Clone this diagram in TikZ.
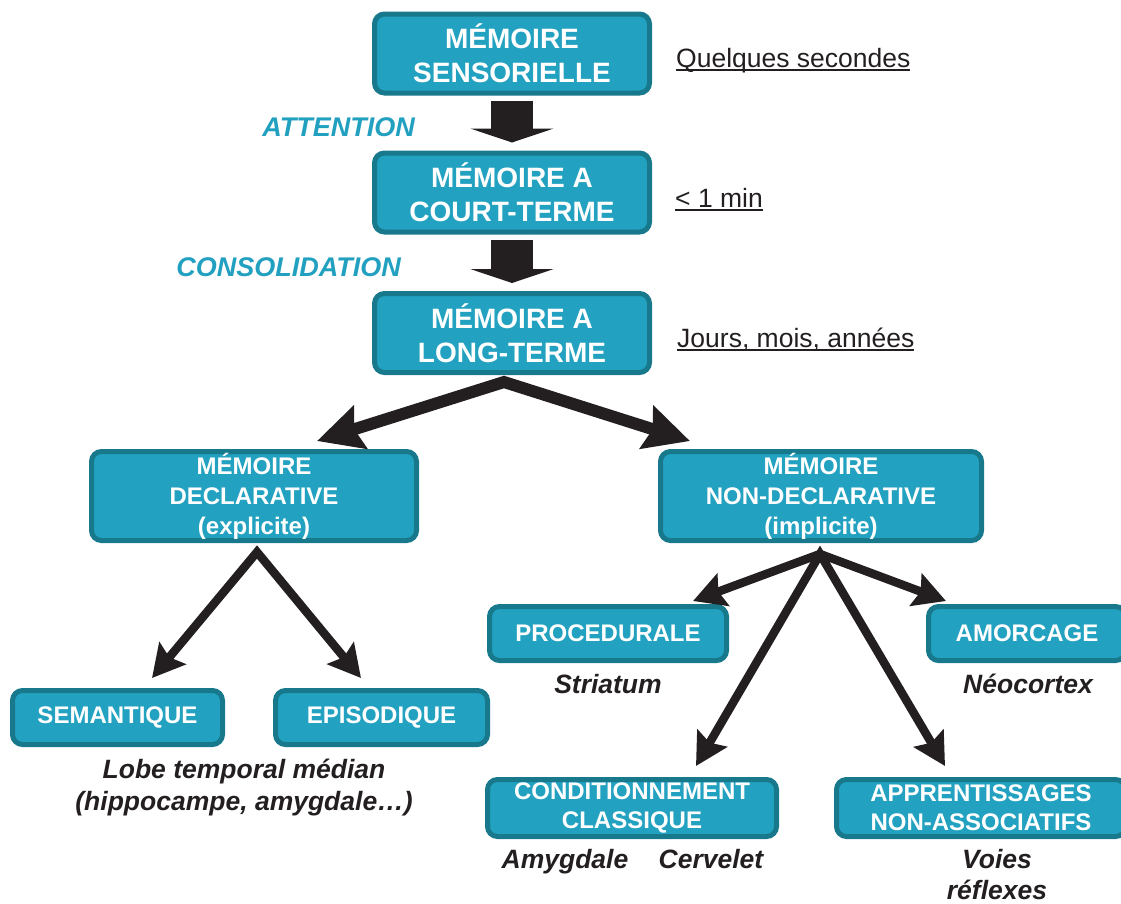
\documentclass[tikz,border=0pt]{standalone}
\usepackage{fontspec}
\setmainfont{Liberation Sans}
\usetikzlibrary{arrows.meta}
\definecolor{boxfill}{RGB}{34,162,192}
\definecolor{boxline}{RGB}{24,120,140}
\definecolor{arrowdark}{RGB}{35,31,32}
\definecolor{labelcyan}{RGB}{34,160,192}
\newsavebox{\soulbox}
\newcommand{\souligne}[1]{\sbox{\soulbox}{#1}\rlap{\rule[-3.5pt]{\wd\soulbox}{1.8pt}}\usebox{\soulbox}}

\begin{document}
\begin{tikzpicture}[x=1pt, y=-1pt,
    membox/.style={draw=boxline, fill=boxfill, line width=5pt, rounded corners=10pt,
      text=white, align=center, inner sep=0pt},
    topbox/.style={minimum width=275pt, minimum height=79pt, font=\fontsize{28}{34}\selectfont\bfseries},
    midbox/.style={minimum height=89pt, font=\fontsize{24}{30}\selectfont\bfseries},
    lowbox/.style={font=\fontsize{24}{29}\selectfont\bfseries},
    flowlabel/.style={text=labelcyan, font=\fontsize{27}{32}\selectfont\bfseries\itshape, inner sep=0pt},
    duree/.style={text=arrowdark, font=\fontsize{26.5}{32}\selectfont, inner sep=0pt},
    region/.style={text=arrowdark, font=\fontsize{26.5}{32}\selectfont\bfseries\itshape, inner sep=0pt},
    blockarrow/.style={draw=arrowdark, line width=42pt, -{Triangle[length=14pt, width=83pt]}},
    fatarrow/.style={draw=arrowdark, line width=12pt, >={Stealth[length=45pt, width=44pt, inset=6pt]}, <->},
    thinarrow/.style={draw=arrowdark, line width=8.5pt, >={Stealth[length=32pt, width=34pt, inset=5pt]}, <->}]
    \useasboundingbox (0,0) rectangle (1121,903);

    \begin{scope}[every node/.style={membox}]
        \node[topbox] (sens) at (512,53.5) {MÉMOIRE\\SENSORIELLE};
        \node[topbox] (ct) at (512,192.5) {MÉMOIRE A\\COURT-TERME};
        \node[topbox] (lt) at (512,333) {MÉMOIRE A\\LONG-TERME};
        \node[midbox, minimum width=325pt] (decl) at (254,496) {MÉMOIRE\\DECLARATIVE\\(explicite)};
        \node[midbox, minimum width=321pt] (nondecl) at (821,496) {MÉMOIRE\\NON-DECLARATIVE\\(implicite)};
        \node[lowbox, minimum width=210pt, minimum height=54pt] (sem) at (117.5,717.5) {SEMANTIQUE};
        \node[lowbox, minimum width=212pt, minimum height=54pt] (epi) at (381.5,717.5) {EPISODIQUE};
        \node[lowbox, minimum width=237pt, minimum height=54pt] (proc) at (608,633.5) {PROCEDURALE};
        \node[lowbox, minimum width=197pt, minimum height=54pt] (amor) at (1027,633.5) {AMORCAGE};
        \node[lowbox, minimum width=289pt, minimum height=57pt] (cond) at (632,808) {CONDITIONNEMENT\\CLASSIQUE};
        \node[lowbox, minimum width=289pt, minimum height=57pt] (appr) at (981,808) {APPRENTISSAGES\\NON-ASSOCIATIFS};
    \end{scope}

    % etapes et durees
    \node[flowlabel, anchor=east] (attn) at (415,127) {ATTENTION};
    \node[flowlabel, anchor=east] (consol) at (401,267) {CONSOLIDATION};
    \node[duree, anchor=base west] (dsens) at (676,67) {\souligne{Quelques secondes}};
    \node[duree, anchor=base west] (dct) at (675,207) {\souligne{< 1 min}};
    \node[duree, anchor=base west] (dlt) at (677,347) {\souligne{Jours, mois, années}};

    % structures cerebrales
    \node[region, anchor=base] (lobe) at (244,778) {Lobe temporal médian};
    \node[region, anchor=base] (hippo) at (244,810) {(hippocampe, amygdale…)};
    \node[region, anchor=base] (striatum) at (608,693) {Striatum};
    \node[region, anchor=base] (neocortex) at (1028,693) {Néocortex};
    \node[region, anchor=base] (amyg) at (565,868) {Amygdale};
    \node[region, anchor=base] (cerv) at (711,868) {Cervelet};
    \node[region, anchor=base] (voies) at (997,868) {Voies};
    \node[region, anchor=base] (reflexes) at (997,899) {réflexes};

    \draw[blockarrow] ([yshift=-5pt]sens.south) -- ([yshift=8pt]ct.north);
    \draw[blockarrow] ([yshift=-5pt]ct.south) -- ([yshift=8pt]lt.north);
    \draw[fatarrow] ([xshift=63pt,yshift=8pt]decl.north) -- ([xshift=-8pt,yshift=-7pt]lt.south)
        -- ([xshift=32pt,yshift=8pt]nondecl.north west);
    \draw[thinarrow] ([xshift=34.5pt,yshift=10pt]sem.north) -- ([xshift=3pt,yshift=-9pt]decl.south)
        -- ([xshift=-20.5pt,yshift=10pt]epi.north);
    \draw[thinarrow] ([xshift=85pt,yshift=3pt]proc.north) -- ([xshift=-1pt,yshift=-11pt]nondecl.south)
        -- ([xshift=20pt,yshift=3pt]amor.north west);
    \draw[thinarrow] ([xshift=64pt,yshift=11pt]cond.north) -- ([xshift=-1pt,yshift=-11pt]nondecl.south)
        -- ([xshift=111pt,yshift=11pt]appr.north west);
\end{tikzpicture}
\end{document}
